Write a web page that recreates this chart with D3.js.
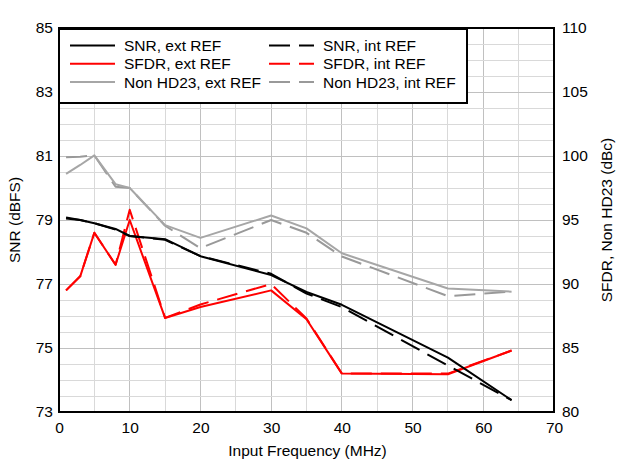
<!DOCTYPE html>
<html>
<head>
<meta charset="utf-8">
<script src="https://cdn.jsdelivr.net/npm/d3@7/dist/d3.min.js"></script>
<style>
  html, body { margin: 0; padding: 0; background: #fff; }
  svg text { font-family: "Liberation Sans", Arial, sans-serif; fill: #000; }
</style>
</head>
<body>
<svg id="chart" width="626" height="469"></svg>
<script>
// ---- data ----
const freq    = [1, 3, 5, 8, 10, 15, 20, 30, 35, 40, 55, 64];
const snrExt  = [79.05, 79.0, 78.9, 78.72, 78.5, 78.4, 77.87, 77.28, 76.75, 76.35, 74.7, 73.37];
const snrInt  = [79.08, 79.0, 78.9, 78.7, 78.5, 78.38, 77.87, 77.32, 76.7, 76.28, 74.45, 73.37];
const sfdrExt = [89.5, 90.6, 94.0, 91.5, 95.0, 87.35, 88.2, 89.5, 87.25, 83.0, 82.95, 84.8];
const sfdrInt = [89.5, 90.6, 94.0, 91.5, 95.8, 87.35, 88.4, 90.0, 87.3, 83.0, 83.0, 84.8];
const nhdExt  = [98.6, 99.3, 100.05, 97.8, 97.5, 94.6, 93.6, 95.35, 94.35, 92.4, 89.65, 89.4];
const nhdInt  = [99.9, 99.95, 100.05, 97.6, 97.5, 94.55, 92.8, 95.0, 94.0, 92.15, 89.05, 89.4];

const xTicks  = [0, 10, 20, 30, 40, 50, 60, 70];
const yLTicks = [73, 75, 77, 79, 81, 83, 85];
const yRTicks = [80, 85, 90, 95, 100, 105, 110];

const legendItems = [
  {label: "SNR, ext REF",      color: "#000000", dash: null,   series: "snrExt"},
  {label: "SNR, int REF",      color: "#000000", dash: "21,9", series: "snrInt"},
  {label: "SFDR, ext REF",     color: "#ff0000", dash: null,   series: "sfdrExt"},
  {label: "SFDR, int REF",     color: "#ff0000", dash: "21,9", series: "sfdrInt"},
  {label: "Non HD23, ext REF", color: "#a6a6a6", dash: null,   series: "nhdExt"},
  {label: "Non HD23, int REF", color: "#999999", dash: "21,9", series: "nhdInt"}
];

// ---- layout ----
const L = 59, R = 554, T = 28, B = 412;
const svg = d3.select("#chart");

const x  = d3.scaleLinear().domain([0, 70]).range([L, R]);
const yL = d3.scaleLinear().domain([73, 85]).range([B, T]);
const yR = d3.scaleLinear().domain([80, 110]).range([B, T]);

// gridlines
const g = svg.append("g");
d3.range(5, 70, 5).forEach(v => {
  g.append("line").attr("x1", x(v)).attr("x2", x(v)).attr("y1", T).attr("y2", B)
    .attr("stroke", v % 10 === 0 ? "#c0c0c0" : "#d9d9d9").attr("stroke-width", 1)
    .attr("shape-rendering", "crispEdges");
});
d3.range(73.5, 85, 0.5).forEach(v => {
  const major = Math.abs((v - 73) % 2) < 1e-9;
  g.append("line").attr("x1", L).attr("x2", R).attr("y1", yL(v)).attr("y2", yL(v))
    .attr("stroke", major ? "#c0c0c0" : "#d9d9d9").attr("stroke-width", 1)
    .attr("shape-rendering", "crispEdges");
});

// series
const seriesData = {
  snrExt: freq.map((f, i) => [f, snrExt[i]]),
  snrInt: freq.map((f, i) => [f, snrInt[i]]),
  sfdrExt: freq.map((f, i) => [f, sfdrExt[i]]),
  sfdrInt: freq.map((f, i) => [f, sfdrInt[i]]),
  nhdExt: freq.map((f, i) => [f, nhdExt[i]]),
  nhdInt: freq.map((f, i) => [f, nhdInt[i]])
};
const lineL = d3.line().x(d => x(d[0])).y(d => yL(d[1]));
const lineR = d3.line().x(d => x(d[0])).y(d => yR(d[1]));

const drawOrder = ["nhdInt", "nhdExt", "sfdrInt", "sfdrExt", "snrInt", "snrExt"];
drawOrder.forEach(key => {
  const item = legendItems.find(it => it.series === key);
  const gen = key.startsWith("snr") ? lineL : lineR;
  svg.append("path").datum(seriesData[key])
    .attr("d", gen)
    .attr("fill", "none")
    .attr("stroke", item.color)
    .attr("stroke-width", 2)
    .attr("stroke-dasharray", item.dash)
    .attr("stroke-linejoin", "round");
});

// frame
svg.append("rect").attr("x", L).attr("y", T).attr("width", R - L).attr("height", B - T)
  .attr("fill", "none").attr("stroke", "#000").attr("stroke-width", 2);

// axes labels (no tick marks)
const xAxis = d3.axisBottom(x).tickValues(xTicks).tickSize(0).tickPadding(10);
const xa = svg.append("g").attr("transform", `translate(0,${B})`).call(xAxis);
xa.select(".domain").remove();
xa.selectAll("text").attr("font-size", 15.5).attr("font-family", "Liberation Sans, Arial, sans-serif");

const yAxisL = d3.axisLeft(yL).tickValues(yLTicks).tickSize(0).tickPadding(6);
const ya = svg.append("g").attr("transform", `translate(${L},0)`).call(yAxisL);
ya.select(".domain").remove();
ya.selectAll("text").attr("font-size", 15.5).attr("font-family", "Liberation Sans, Arial, sans-serif");

const yAxisR = d3.axisRight(yR).tickValues(yRTicks).tickSize(0).tickPadding(8);
const yra = svg.append("g").attr("transform", `translate(${R},0)`).call(yAxisR);
yra.select(".domain").remove();
yra.selectAll("text").attr("font-size", 15.5).attr("font-family", "Liberation Sans, Arial, sans-serif");

// axis titles
svg.append("text").attr("x", (L + R) / 2 + 1).attr("y", 456).attr("text-anchor", "middle")
  .attr("font-size", 15.5).text("Input Frequency (MHz)");
svg.append("text").attr("transform", `translate(20,${(T + B) / 2}) rotate(-90)`)
  .attr("text-anchor", "middle").attr("font-size", 15.5).text("SNR (dBFS)");
svg.append("text").attr("transform", `translate(612,${(T + B) / 2}) rotate(-90)`)
  .attr("text-anchor", "middle").attr("font-size", 15.5).text("SFDR, Non HD23 (dBc)");

// legend
const lg = svg.append("g");
lg.append("rect").attr("x", 59).attr("y", 29).attr("width", 408).attr("height", 74)
  .attr("fill", "#fff").attr("stroke", "#000").attr("stroke-width", 2);
legendItems.forEach((it, i) => {
  const col = i % 2, row = Math.floor(i / 2);
  const lx = col === 0 ? 70 : 269;
  const ly = 45.5 + row * 18.3;
  lg.append("line").attr("x1", lx).attr("x2", lx + 45).attr("y1", ly).attr("y2", ly)
    .attr("stroke", it.color).attr("stroke-width", 2).attr("stroke-dasharray", it.dash);
  lg.append("text").attr("x", lx + 54).attr("y", ly + 5.5).attr("font-size", 15.5).text(it.label);
});
</script>
</body>
</html>
